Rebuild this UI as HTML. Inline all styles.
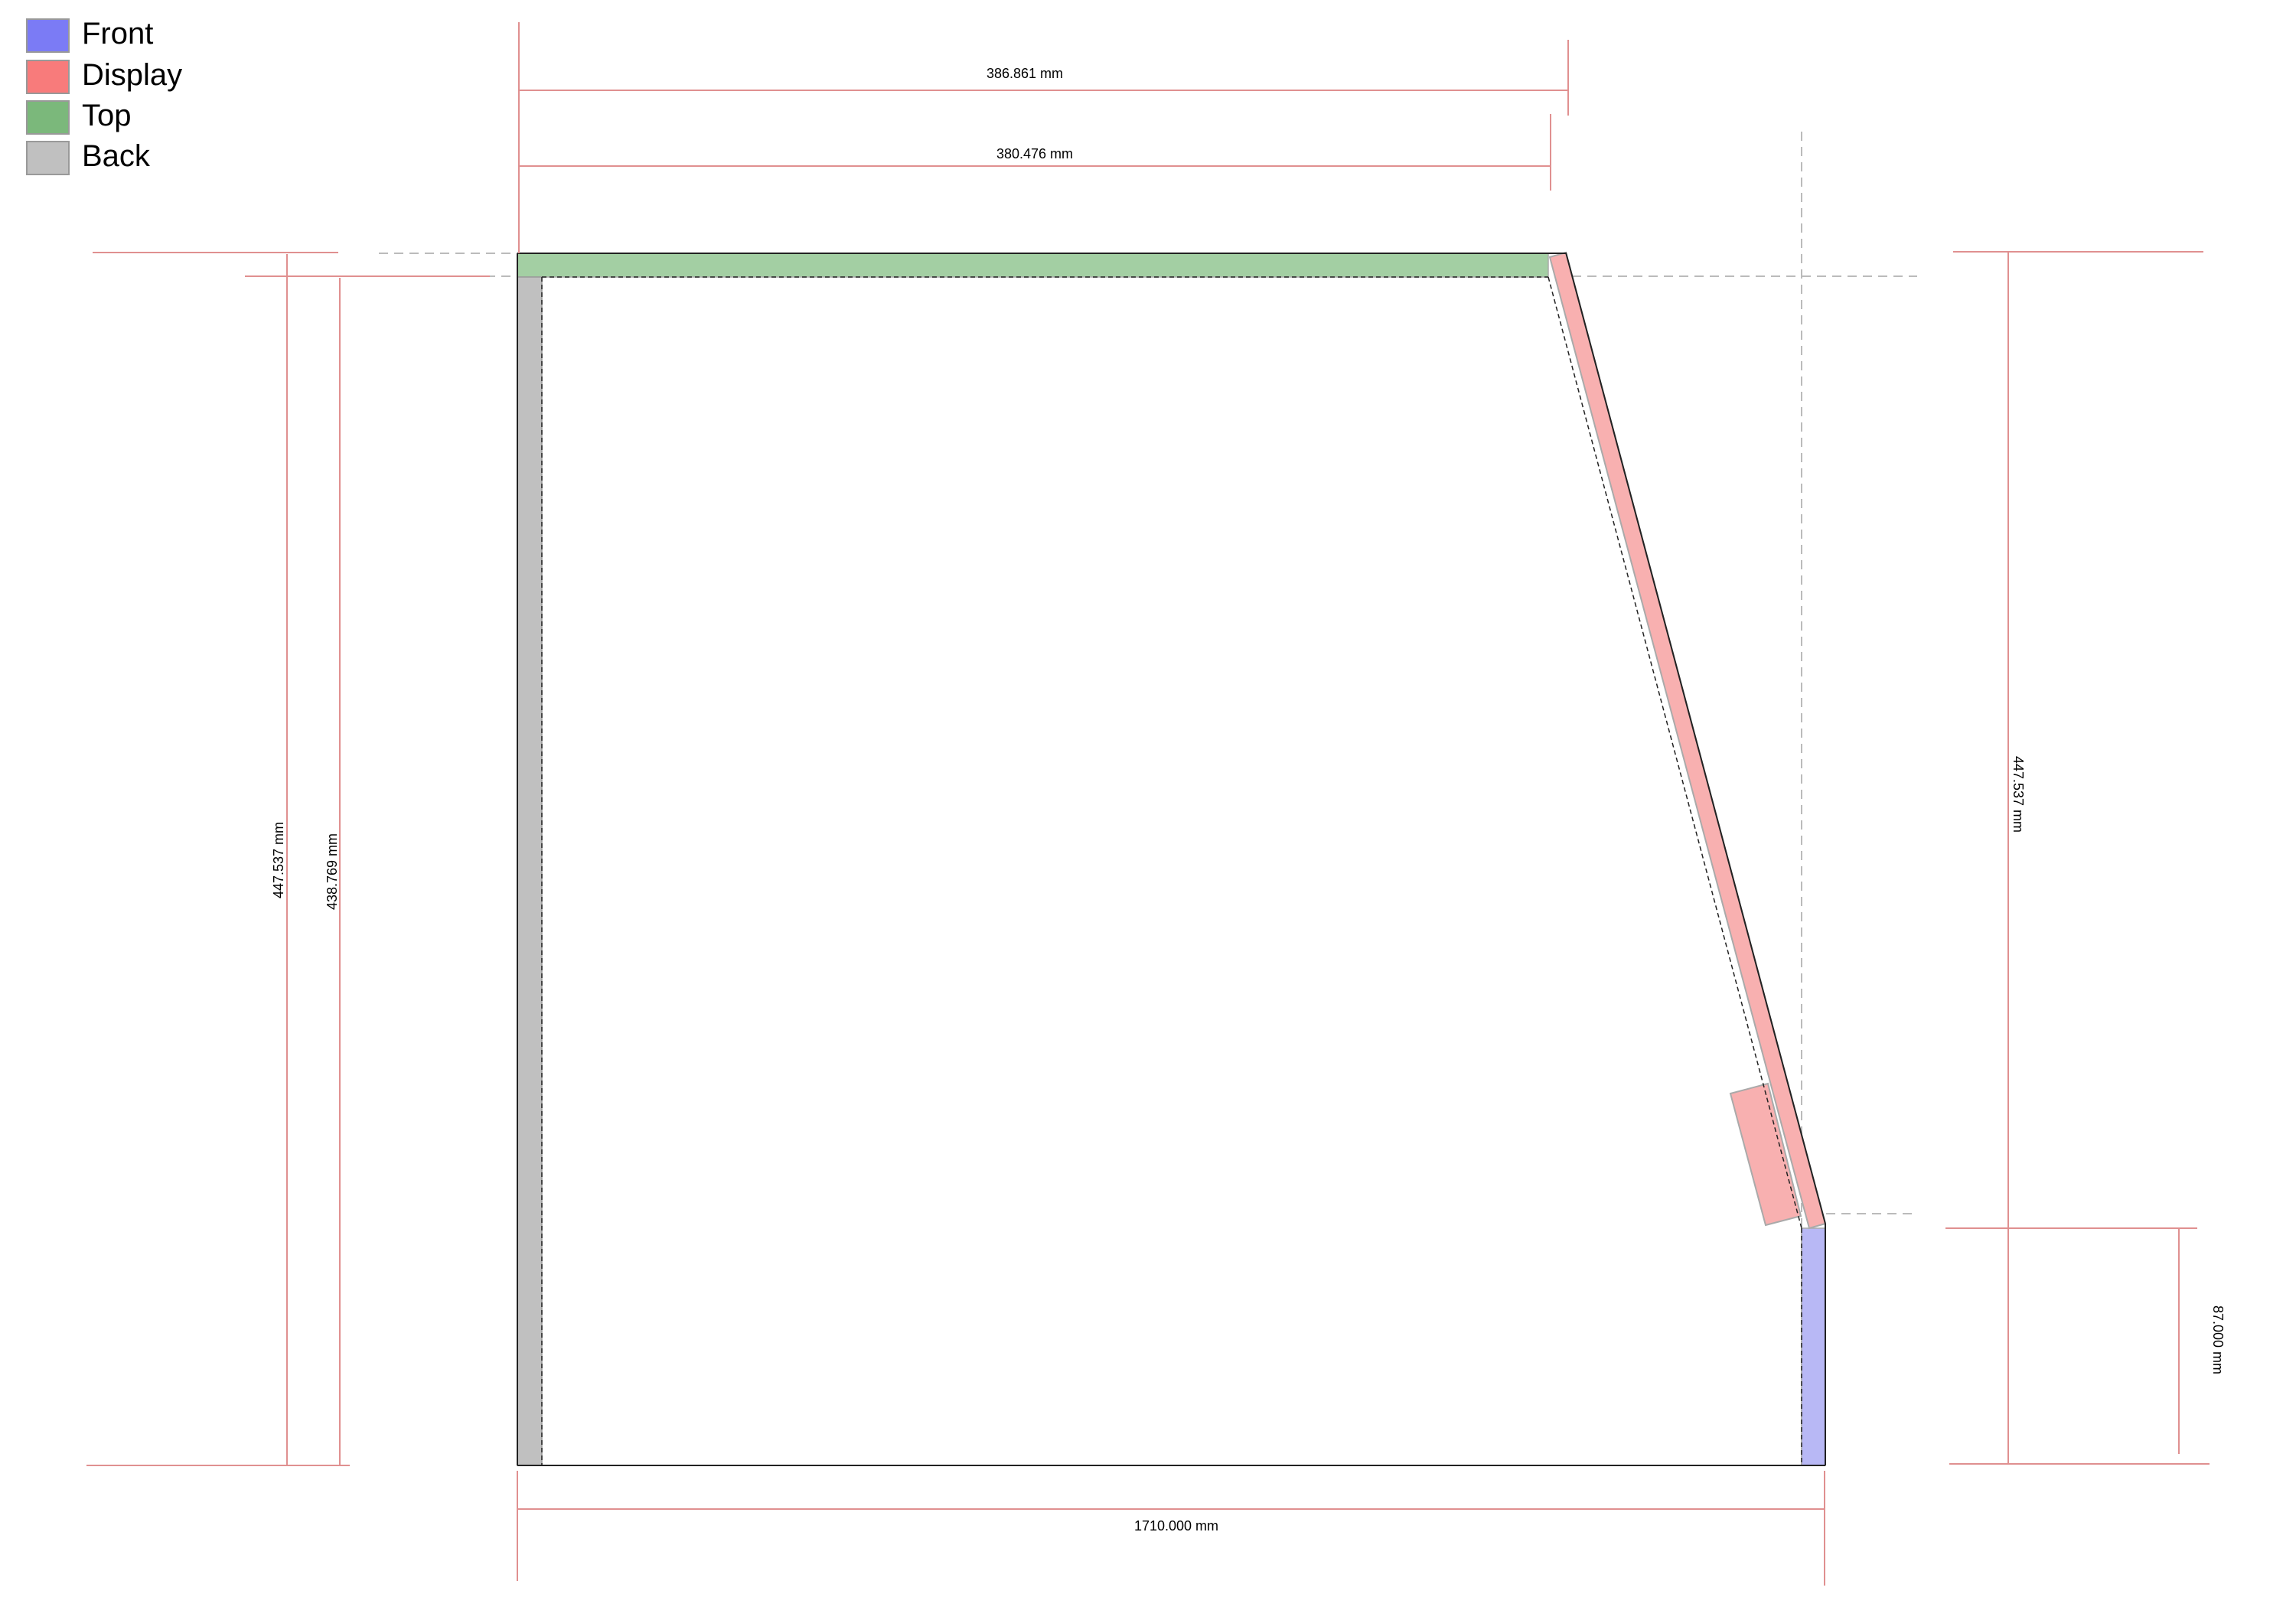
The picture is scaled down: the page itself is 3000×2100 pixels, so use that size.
<!DOCTYPE html>
<html><head><meta charset="utf-8"><style>
html,body{margin:0;padding:0;background:#fff;}
svg{display:block;}
text{font-family:"Liberation Sans",Arial,sans-serif;fill:#000;}
</style></head><body>
<svg width="3000" height="2100" viewBox="0 0 3000 2100" xmlns="http://www.w3.org/2000/svg">
<g>
 <g><rect x="35" y="25" width="55" height="43" fill="#7b7bf5" stroke="#999" stroke-width="2"/><text x="107" y="57" font-size="40">Front</text></g>
 <g><rect x="35" y="79" width="55" height="43" fill="#f87b7b" stroke="#999" stroke-width="2"/><text x="107" y="111" font-size="40">Display</text></g>
 <g><rect x="35" y="132" width="55" height="43" fill="#7bb87b" stroke="#999" stroke-width="2"/><text x="107" y="164" font-size="40">Top</text></g>
 <g><rect x="35" y="185" width="55" height="43" fill="#c0c0c0" stroke="#999" stroke-width="2"/><text x="107" y="217" font-size="40">Back</text></g>
</g>

<g stroke="#bbb" stroke-width="2" stroke-dasharray="12,8" fill="none">
 <line x1="495" y1="331" x2="676" y2="331"/>
 <line x1="495" y1="361" x2="676" y2="361"/>
 <line x1="2054" y1="361" x2="2505" y2="361"/>
 <line x1="2354" y1="172" x2="2354" y2="1915"/>
 <line x1="2386" y1="1586" x2="2499" y2="1586"/>
</g>

<g>
 <rect x="676" y="331" width="1347" height="31" fill="#a3cfa3" stroke="#aaa" stroke-width="1.5"/>
 <rect x="676" y="362" width="32" height="1553" fill="#c0c0c0" stroke="#999" stroke-width="1.5"/>
 <rect x="2354" y="1605" width="31" height="310" fill="#b8b8f5" stroke="#aaa" stroke-width="1.5"/>
 <polygon points="2046,330 2385,1599 2364,1605 2025,336" fill="#f8b0b0" stroke="#aaa" stroke-width="2"/>
 <polygon points="2261,1429 2310,1416 2353,1589 2307,1601" fill="#f8b0b0" stroke="#aaa" stroke-width="2"/>
 <line x1="2046" y1="330" x2="2385" y2="1599" stroke="#222" stroke-width="2"/>
 <line x1="2385" y1="1599" x2="2385" y2="1915" stroke="#222" stroke-width="2"/>
 <line x1="676" y1="331" x2="2046" y2="331" stroke="#222" stroke-width="2"/>
 <line x1="676" y1="331" x2="676" y2="1915" stroke="#222" stroke-width="2"/>
 <line x1="676" y1="1915" x2="2385" y2="1915" stroke="#222" stroke-width="2"/>
 <g stroke="#222" stroke-width="1.5" stroke-dasharray="6,4" fill="none">
  <line x1="708" y1="362" x2="708" y2="1915"/>
  <line x1="708" y1="362" x2="2023" y2="362"/>
  <line x1="2023" y1="362" x2="2354" y2="1605"/>
  <line x1="2354" y1="1605" x2="2354" y2="1915"/>
 </g>
</g>

<g stroke="#e09090" stroke-width="2" fill="none">
 <line x1="678" y1="29" x2="678" y2="331"/>
 <line x1="678" y1="118" x2="2049" y2="118"/>
 <line x1="2049" y1="52" x2="2049" y2="151"/>
 <line x1="678" y1="217" x2="2026" y2="217"/>
 <line x1="2026" y1="149" x2="2026" y2="249"/>
 <line x1="121" y1="330" x2="442" y2="330"/>
 <line x1="320" y1="361" x2="640" y2="361"/>
 <line x1="375" y1="332" x2="375" y2="1915"/>
 <line x1="444" y1="363" x2="444" y2="1915"/>
 <line x1="113" y1="1915" x2="457" y2="1915"/>
 <line x1="676" y1="1922" x2="676" y2="2066"/>
 <line x1="676" y1="1972" x2="2384" y2="1972"/>
 <line x1="2384" y1="1922" x2="2384" y2="2072"/>
 <line x1="2552" y1="329" x2="2879" y2="329"/>
 <line x1="2624" y1="329" x2="2624" y2="1913"/>
 <line x1="2542" y1="1605" x2="2871" y2="1605"/>
 <line x1="2547" y1="1913" x2="2887" y2="1913"/>
 <line x1="2847" y1="1605" x2="2847" y2="1900"/>
</g>
<g font-size="18">
 <text x="1339" y="102" text-anchor="middle">386.861 mm</text>
 <text x="1352" y="207" text-anchor="middle">380.476 mm</text>
 <text x="1537" y="2000" text-anchor="middle">1710.000 mm</text>
 <text transform="translate(370,1124) rotate(-90)" text-anchor="middle">447.537 mm</text>
 <text transform="translate(440,1139) rotate(-90)" text-anchor="middle">438.769 mm</text>
 <text transform="translate(2631,1038) rotate(90)" text-anchor="middle">447.537 mm</text>
 <text transform="translate(2892,1751) rotate(90)" text-anchor="middle">87.000 mm</text>
</g>
</svg>
</body></html>
